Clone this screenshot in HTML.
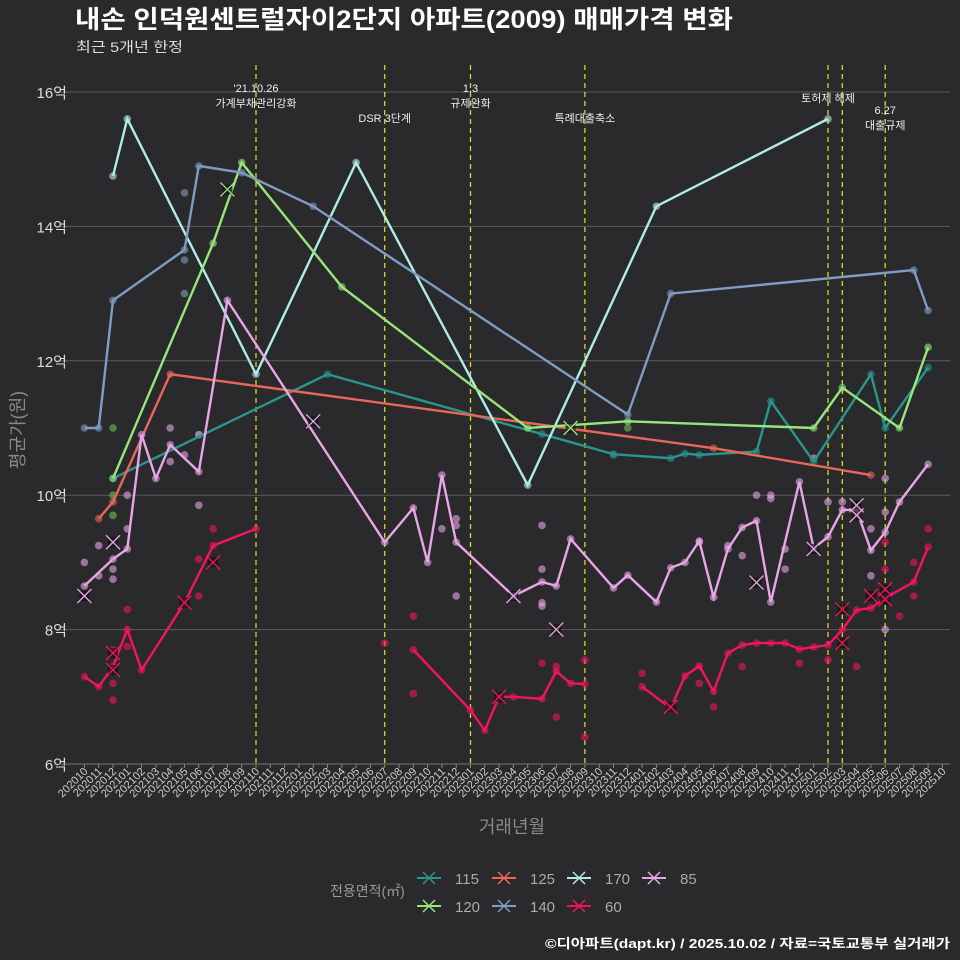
<!DOCTYPE html>
<html><head><meta charset="utf-8">
<style>
body{margin:0;background:#2a2a2c;width:960px;height:960px;overflow:hidden;font-family:"Liberation Sans","Noto Sans CJK KR",sans-serif;}
svg{position:absolute;left:0;top:0}
</style></head>
<body>
<svg id="chart" width="960" height="960" font-family="Liberation Sans, Noto Sans CJK KR, sans-serif">
<rect width="960" height="960" fill="#2a2a2c"/>
<text x="75" y="28" fill="#fff" font-size="25" font-weight="bold" textLength="658" lengthAdjust="spacingAndGlyphs">내손 인덕원센트럴자이2단지 아파트(2009) 매매가격 변화</text>
<text x="76" y="52" fill="#ddd" font-size="14" textLength="107" lengthAdjust="spacingAndGlyphs">최근 5개년 한정</text>
<text transform="translate(24,430) rotate(-90)" text-anchor="middle" fill="#888" font-size="18">평균가(원)</text>
<text x="512" y="833" text-anchor="middle" fill="#888" font-size="18">거래년월</text>
<text x="545" y="948" fill="#fff" font-size="13" font-weight="bold" textLength="405" lengthAdjust="spacingAndGlyphs">©디아파트(dapt.kr) / 2025.10.02 / 자료=국토교통부 실거래가</text>
<g id="grid"></g><g id="events"></g><g id="marks"></g><g id="axes"></g><g id="legend"></g>
</svg>
<script>
const yTicks=[6,8,10,12,14,16];
const eventMonths=[12,21,27,35,52,53,56];
const eventLabels=[["'21.10.26","가계부채관리강화"],["DSR 3단계"],["1.3","규제완화"],["특례대출축소"],["토허제 해제"],[""],["6.27","대출규제"]];
const eventLabelY=[92,122,92,122,102,0,114];
const seriesNames=["115","125","170","85","120","140","60"];
const seriesColors=["#2a958c","#e8675a","#b0ece6","#e8a6e6","#98e67a","#7f9cc2","#f2145e"];
const s115=[[2,10.25],[17,11.8],[32,10.91],[37,10.61],[41,10.55],[42,10.62],[43,10.6],[47,10.65],[48,11.4],[51,10.5],[55,11.8],[56,11.0],[59,11.9]];
const s125=[[1,9.65],[2,9.9],[6,11.8],[44,10.7],[55,10.3]];
const s170=[[2,14.75],[3,15.6],[12,11.8],[19,14.95],[31,10.15],[40,14.3],[52,15.6]];
const s85=[[0,8.65],[2,9.05],[3,9.2],[4,10.9],[5,10.25],[6,10.75],[8,10.35],[10,12.9],[21,9.3],[23,9.81],[24,9.0],[25,10.3],[26,9.3],[30,8.5],[32,8.71],[33,8.65],[34,9.35],[37,8.62],[38,8.81],[40,8.41],[41,8.92],[42,9.0],[43,9.32],[44,8.48],[45,9.2],[46,9.52],[47,9.62],[48,8.41],[50,10.2],[51,9.21],[52,9.38],[53,9.78],[54,9.78],[55,9.18],[56,9.45],[57,9.9],[59,10.46]];
const s120=[[2,10.25],[9,13.75],[11,14.95],[18,13.1],[31,11.0],[38,11.1],[51,11.0],[53,11.6],[57,11.0],[59,12.2]];
const s140=[[0,11.0],[1,11.0],[2,12.9],[7,13.65],[8,14.9],[11,14.8],[16,14.3],[38,11.2],[41,13.0],[58,13.35],[59,12.75]];
const s60a=[[0,7.3],[1,7.15],[2,7.45],[3,8.0],[4,7.4],[7,8.4],[9,9.25],[12,9.5]];
const s60b=[[23,7.7],[27,6.8],[28,6.5],[29,7.0],[30,7.0],[32,6.97],[33,7.38],[34,7.2],[35,7.19]];
const s60c=[[39,7.15],[41,6.83],[42,7.31],[43,7.46],[44,7.08],[45,7.65],[46,7.77],[47,7.8],[48,7.8],[49,7.8],[50,7.71],[51,7.74],[52,7.77],[53,8.0],[54,8.29],[55,8.32],[56,8.47],[58,8.71],[59,9.23]];
const extra85=[[0,9.0],[1,9.25],[1,8.8],[2,8.9],[2,8.75],[3,9.5],[3,10.0],[6,11.0],[6,10.5],[7,10.6],[8,9.85],[8,10.9],[25,9.5],[26,9.65],[26,9.55],[26,8.5],[32,9.55],[32,8.9],[32,8.4],[32,8.35],[43,9.3],[45,9.25],[46,9.1],[47,10.0],[48,10.0],[48,9.95],[49,9.2],[49,8.9],[51,10.55],[52,9.9],[53,9.9],[55,9.5],[56,10.25],[56,9.75],[55,8.8],[56,8.0]];
const extra60=[[2,7.7],[2,7.2],[2,6.95],[3,8.3],[3,7.75],[8,9.05],[8,8.5],[9,9.5],[21,7.8],[23,8.2],[23,7.05],[32,7.5],[33,7.45],[33,6.7],[35,7.55],[35,6.4],[39,7.35],[43,7.2],[44,6.85],[46,7.45],[50,7.5],[52,7.55],[56,9.3],[56,8.9],[57,8.2],[58,9.0],[58,8.5],[59,9.5],[54,7.45]];
const extra115=[[37,10.6]];
const extra120=[[2,11.0],[2,10.0],[2,9.7],[38,11.0]];
const extra140=[[7,14.5],[7,13.0],[7,13.5],[8,10.9]];
const crossMarks=[[0,8.5,3],[2,9.3,3],[2,7.65,6],[2,7.4,6],[7,8.4,6],[9,9.0,6],[10,14.55,4],[16,11.1,3],[29,7.0,6],[30,8.5,3],[33,8.0,3],[34,11.0,4],[41,6.85,6],[47,8.7,3],[51,9.2,3],[53,8.3,6],[53,7.8,6],[54,9.85,3],[54,9.7,3],[56,8.45,6],[56,8.6,6],[55,8.5,6]];
const months=[];for(let y=2020,m=10;months.length<61;){months.push(y+String(m).padStart(2,'0'));m++;if(m>12){m=1;y++;}}

const X=i=>84.4+14.3*i, Y=v=>764-67.2*(v-6);
const NS="http://www.w3.org/2000/svg";
function mk(tag,attrs,parent){const e=document.createElementNS(NS,tag);for(const k in attrs)e.setAttribute(k,attrs[k]);parent.appendChild(e);return e;}
const grid=document.getElementById('grid'),axes=document.getElementById('axes'),marks=document.getElementById('marks'),ev=document.getElementById('events'),lg=document.getElementById('legend');
yTicks.forEach(t=>{
  const l=mk('line',{x1:58,x2:950,y1:Y(t),y2:Y(t),stroke:'#5a5a5c','stroke-width':1},grid);
  
  
  const tx=mk('text',{x:67,y:Y(t)+6,'text-anchor':'end',fill:'#ddd','font-size':15},axes);
  tx.textContent=t+'억';
  
  
});
months.forEach((m,i)=>{
  mk('line',{x1:X(i),x2:X(i),y1:764,y2:768,stroke:'#888'},axes);
  const tx=mk('text',{transform:`translate(${X(i)+4},${772}) rotate(-45)`,'text-anchor':'end',fill:'#ccc','font-size':11},axes);
  tx.textContent=m;
  
  
});
eventMonths.forEach((m,k)=>{
  const l=mk('line',{x1:X(m),x2:X(m),y1:65,y2:764,stroke:'#d8d820','stroke-width':1.3,'stroke-dasharray':'5,4'},ev);
  
  
  eventLabels[k].forEach((s,j)=>{if(!s)return;
    const t=mk('text',{x:X(m),y:eventLabelY[k]+j*15,'text-anchor':'middle',fill:'#eee','font-size':11},ev);
    t.textContent=s;
    
    
  });
});
function dots(arr,c){arr.forEach(p=>{const d=mk('circle',{cx:X(p[0]),cy:Y(p[1]),r:3.8,fill:c,opacity:0.6},marks);
  
  });}
function line(arr,c,name){
  const pl=mk('polyline',{points:arr.map(p=>X(p[0])+','+Y(p[1])).join(' '),fill:'none',stroke:c,'stroke-width':2.4},marks);
  
  
  dots(arr,c);
}
dots(extra85,seriesColors[3]);dots(extra60,seriesColors[6]);dots(extra115,seriesColors[0]);dots(extra120,"#6cc050");dots(extra140,seriesColors[5]);
line(s115,seriesColors[0],'line-115');line(s125,seriesColors[1],'line-125');line(s170,seriesColors[2],'line-170');
line(s120,seriesColors[4],'line-120');line(s140,seriesColors[5],'line-140');
line(s85,seriesColors[3],'line-85');line(s60a,seriesColors[6],'line-60');line(s60b,seriesColors[6],'line-60');line(s60c,seriesColors[6],'line-60');
crossMarks.forEach(p=>{const x=X(p[0]),y=Y(p[1]),c=seriesColors[p[2]];
  mk('rect',{x:x-5,y:y-5,width:10,height:10,fill:'#111',opacity:0.7},marks);
  const g=mk('path',{d:`M${x-7},${y-7}L${x+7},${y+7}M${x-7},${y+7}L${x+7},${y-7}`,stroke:c,'stroke-width':1.3},marks);
  
  
});
mk('line',{x1:58,x2:950,y1:764,y2:764,stroke:'#777'},axes);
const lt=mk('text',{x:330,y:896,fill:'#999','font-size':14},lg);lt.textContent='전용면적(㎡)';


const legPos=[[425,878],[500,878],[575,878],[650,878],[425,906],[500,906],[575,906]];
seriesNames.forEach((n,k)=>{const [x,y]=legPos[k],c=seriesColors[k];
  const g=mk('g',{},lg);
  
  
  mk('line',{x1:x-8,x2:x+16,y1:y,y2:y,stroke:c,'stroke-width':2},g);
  mk('path',{d:`M${x-2},${y-6}L${x+10},${y+6}M${x-2},${y+6}L${x+10},${y-6}`,stroke:c,'stroke-width':1.5},g);
  const t=mk('text',{x:x+30,y:y+6,fill:'#aaa','font-size':15},g);t.textContent=n;
});
</script>
</body></html>
